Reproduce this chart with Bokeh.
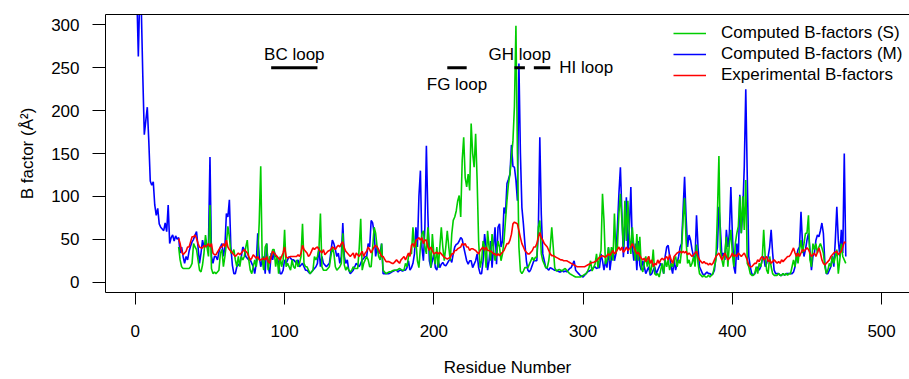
from bokeh.plotting import figure
from bokeh.models import Range1d, FixedTicker, Legend, LegendItem, ColumnDataSource, LinearAxis
from bokeh.embed import file_html
from bokeh.resources import INLINE

# ---------------- data ----------------
first_res_m = 1     # Computed B-factors (M) start residue
first_res_s = 29    # Computed B-factors (S) and experimental start residue

bfac_m = [
    335, 263, 340, 318, 240, 172, 188, 204, 165, 118,
    113, 117, 90, 78, 86, 68, 64, 62, 60, 69,
    59, 90, 45, 52, 55, 48, 54, 50, 52, 34,
    41, 30, 22, 30, 26, 36, 42, 47, 50, 55,
    59, 41, 22, 34, 49, 41, 45, 41, 44, 146,
    30, 22, 30, 30, 26, 35, 41, 45, 30, 41,
    80, 76, 96, 41, 20, 10, 10, 18, 20, 22,
    30, 41, 38, 30, 28, 26, 26, 22, 18, 10,
    22, 57, 30, 18, 26, 30, 10, 45, 18, 10,
    34, 26, 36, 30, 30, 22, 10, 10, 14, 26,
    22, 26, 30, 28, 26, 26, 24, 22, 26, 18,
    20, 22, 18, 14, 14, 12, 10, 12, 14, 16,
    18, 22, 41, 18, 30, 22, 20, 18, 20, 22,
    35, 49, 45, 38, 30, 34, 22, 30, 69, 30,
    22, 26, 14, 10, 12, 14, 18, 22, 20, 18,
    22, 26, 28, 30, 30, 45, 41, 72, 69, 57,
    30, 41, 34, 34, 45, 10, 10, 10, 10, 10,
    11, 12, 13, 14, 14, 12, 14, 14, 13, 14,
    14, 17, 25, 14, 17, 22, 33, 64, 41, 100,
    130, 41, 25, 64, 159, 79, 25, 17, 25, 33,
    17, 14, 25, 17, 21, 23, 20, 19, 22, 25,
    27, 23, 33, 41, 44, 45, 48, 52, 50, 41,
    33, 25, 21, 25, 25, 17, 21, 25, 33, 17,
    10, 10, 25, 56, 41, 14, 25, 48, 17, 41,
    64, 21, 64, 68, 41, 48, 87, 80, 115, 120,
    126, 160, 135, 134, 119, 95, 255, 150, 87, 68,
    45, 25, 14, 12, 15, 20, 25, 25, 25, 60,
    169, 79, 33, 25, 17, 16, 14, 17, 16, 15,
    14, 14, 13, 12, 12, 14, 12, 13, 12, 14,
    16, 17, 21, 25, 14, 12, 10, 8, 7, 6,
    8, 10, 12, 13, 14, 15, 17, 18, 16, 17,
    17, 33, 25, 14, 25, 17, 40, 14, 29, 40,
    25, 33, 64, 103, 134, 80, 29, 64, 99, 33,
    64, 111, 41, 25, 45, 14, 48, 20, 14, 25,
    18, 10, 14, 18, 8, 10, 14, 18, 10, 14,
    18, 22, 18, 10, 30, 41, 43, 30, 18, 10,
    26, 14, 22, 30, 41, 45, 84, 123, 76, 41,
    55, 49, 38, 30, 26, 78, 41, 18, 14, 10,
    8, 10, 12, 10, 10, 8, 10, 14, 30, 41,
    88, 62, 30, 34, 26, 61, 41, 57, 111, 57,
    18, 10, 45, 26, 102, 57, 84, 135, 225, 123,
    30, 18, 10, 8, 10, 14, 18, 14, 18, 26,
    30, 18, 22, 30, 41, 61, 34, 14, 10, 10,
    10, 8, 8, 10, 8, 10, 10, 10, 10, 10,
    12, 18, 30, 38, 41, 82, 45, 30, 38, 49,
    57, 38, 14, 30, 34, 49, 55, 53, 60, 69,
    57, 22, 10, 10, 14, 18, 30, 18, 49, 88,
    49, 30, 61, 34, 150, 30,
]

bfac_s = [
    41, 26,
    18, 16, 16, 16, 16, 16, 18, 22, 45, 41,
    38, 26, 14, 12, 20, 34, 55, 41, 30, 90,
    16, 10, 12, 10, 12, 14, 34, 38, 18, 30,
    45, 65, 53, 34, 34, 38, 26, 18, 30, 18,
    30, 26, 30, 41, 49, 26, 14, 10, 18, 26,
    18, 30, 70, 135, 26, 14, 41, 45, 14, 30,
    30, 38, 38, 18, 30, 10, 30, 18, 26, 61,
    18, 22, 18, 14, 26, 18, 16, 26, 18, 22,
    30, 68, 22, 18, 18, 14, 10, 12, 14, 30,
    26, 30, 38, 80, 18, 14, 14, 14, 16, 18,
    30, 41, 34, 18, 14, 16, 18, 22, 57, 20,
    14, 18, 14, 12, 14, 18, 16, 16, 16, 40,
    74, 14, 22, 26, 30, 26, 18, 18, 40, 64,
    57, 41, 30, 26, 45, 14, 12, 10, 11, 12,
    12, 13, 14, 14, 14, 15, 16, 15, 14, 14,
    22, 18, 30, 34, 33, 64, 40, 48, 25, 17,
    41, 56, 60, 41, 33, 64, 41, 17, 56, 33,
    21, 41, 17, 41, 64, 41, 25, 41, 60, 41,
    25, 56, 72, 76, 83, 95, 101, 76, 142, 169,
    122, 111, 126, 107, 185, 150, 134, 173, 119, 48,
    17, 25, 48, 41, 17, 60, 41, 25, 56, 37,
    25, 33, 48, 41, 25, 33, 48, 72, 95, 115,
    126, 146, 165, 205, 299, 150, 41, 13, 10, 13,
    17, 17, 17, 21, 25, 29, 25, 29, 29, 64,
    72, 33, 25, 21, 17, 17, 25, 41, 64, 41,
    17, 13, 14, 15, 14, 13, 15, 16, 14, 12,
    10, 9, 8, 7, 6, 6, 6, 6, 7, 8,
    9, 10, 13, 17, 25, 13, 17, 21, 33, 17,
    29, 37, 103, 72, 21, 25, 41, 25, 41, 25,
    80, 33, 41, 80, 103, 72, 41, 95, 48, 95,
    56, 33, 64, 41, 25, 56, 25, 53, 18, 12,
    22, 30, 18, 30, 10, 18, 38, 10, 8, 10,
    6, 14, 22, 10, 26, 18, 26, 14, 22, 18,
    26, 30, 18, 26, 22, 38, 73, 98, 49, 22,
    26, 18, 22, 30, 18, 44, 22, 10, 8, 6,
    8, 6, 6, 8, 6, 8, 10, 18, 26, 80,
    147, 38, 26, 18, 34, 53, 18, 45, 61, 34,
    18, 45, 57, 65, 100, 57, 100, 61, 119, 22,
    18, 10, 8, 8, 10, 18, 10, 22, 18, 26,
    61, 30, 14, 10, 30, 18, 10, 8, 8, 8,
    10, 8, 8, 10, 8, 10, 8, 10, 10, 18,
    26, 18, 34, 22, 38, 49, 34, 45, 57, 57,
    78, 26, 18, 45, 38, 45, 34, 41, 45, 40,
    34, 18, 10, 14, 22, 18, 30, 22, 30, 38,
    10, 26, 45, 30, 26, 22,
]

bfac_exp = [
    51, 45,
    36, 32, 34, 36, 41, 41, 47, 53, 53, 55,
    51, 45, 41, 40, 40, 43, 41, 43, 45, 41,
    45, 34, 32, 32, 35, 38, 41, 41, 45, 41,
    49, 41, 38, 36, 34, 32, 30, 32, 34, 32,
    34, 36, 38, 36, 34, 30, 26, 28, 32, 30,
    28, 30, 26, 26, 27, 28, 26, 30, 24, 22,
    30, 36, 34, 32, 30, 28, 26, 30, 34, 41,
    30, 28, 29, 30, 30, 30, 30, 30, 32, 30,
    34, 43, 38, 36, 34, 30, 32, 36, 40, 38,
    40, 41, 38, 36, 34, 38, 32, 34, 36, 37,
    38, 41, 40, 38, 41, 43, 41, 45, 47, 40,
    36, 34, 32, 30, 32, 34, 28, 34, 32, 30,
    33, 36, 30, 34, 36, 41, 38, 34, 38, 41,
    43, 41, 38, 34, 30, 30, 27, 24, 24, 24,
    23, 22, 22, 24, 26, 24, 22, 26, 28, 30,
    26, 30, 34, 30, 43, 45, 41, 49, 50, 52,
    49, 52, 45, 49, 49, 41, 37, 41, 37, 33,
    34, 35, 33, 35, 33, 31, 29, 28, 27, 28,
    29, 33, 33, 37, 37, 39, 40, 41, 45, 43,
    45, 41, 41, 37, 39, 39, 38, 37, 35, 33,
    37, 39, 41, 37, 41, 37, 37, 36, 35, 33,
    33, 31, 33, 31, 33, 35, 37, 41, 45, 45,
    49, 56, 68, 70, 69, 68, 60, 52, 45, 41,
    37, 35, 33, 33, 35, 37, 41, 41, 45, 52,
    58, 52, 49, 45, 43, 41, 37, 33, 31, 31,
    30, 29, 28, 27, 26, 26, 25, 25, 25, 24,
    23, 22, 21, 20, 19, 18, 18, 18, 18, 18,
    18, 19, 20, 21, 22, 23, 23, 24, 25, 27,
    29, 30, 31, 30, 29, 31, 33, 31, 34, 37,
    33, 35, 38, 41, 37, 41, 35, 37, 41, 37,
    39, 41, 45, 41, 37, 33, 35, 31, 28, 26,
    28, 24, 27, 30, 22, 26, 18, 22, 20, 26,
    22, 26, 28, 26, 28, 30, 26, 32, 26, 22,
    30, 32, 34, 35, 36, 34, 36, 34, 36, 32,
    34, 32, 30, 32, 34, 36, 30, 26, 24, 22,
    24, 22, 22, 20, 22, 20, 22, 26, 30, 32,
    34, 30, 26, 30, 34, 30, 26, 28, 30, 34,
    30, 32, 30, 34, 32, 30, 32, 34, 30, 26,
    20, 18, 18, 20, 22, 22, 26, 24, 28, 30,
    26, 28, 30, 24, 26, 22, 24, 26, 24, 22,
    24, 22, 26, 24, 26, 28, 30, 30, 32, 36,
    40, 34, 30, 34, 30, 34, 38, 36, 38, 40,
    38, 34, 30, 32, 34, 30, 35, 40, 34, 26,
    22, 20, 22, 24, 26, 30, 32, 34, 35, 36,
    32, 34, 36, 41, 47, 46,
]

series_labels = ["Computed B-factors (S)", "Computed B-factors (M)", "Experimental B-factors"]

loop_names = ["BC loop", "FG loop", "GH loop", "HI loop"]
loop_start = [91, 209, 254, 267]
loop_end = [122, 222, 261, 278]
loop_level = [250, 250, 250, 250]

x_ticks = [0, 100, 200, 300, 400, 500]
y_ticks = [0, 50, 100, 150, 200, 250, 300]

# ---------------- figure ----------------
FONT = "Liberation Sans"
FS = "17px"

res_m = list(range(first_res_m, first_res_m + len(bfac_m)))
res_s = list(range(first_res_s, first_res_s + len(bfac_s)))
res_e = list(range(first_res_s, first_res_s + len(bfac_exp)))

p = figure(width=909, height=379,
           x_range=Range1d(-20, 518.7), y_range=Range1d(-12, 312),
           output_backend="svg", toolbar_location=None,
           min_border_left=105, min_border_right=0, min_border_top=14, min_border_bottom=86)
p.outline_line_color = None
p.xgrid.visible = False
p.ygrid.visible = False
p.background_fill_color = "white"
p.border_fill_color = "white"

r_m = p.line(res_m, bfac_m, line_color="#0000FF", line_width=1.6)
r_s = p.line(res_s, bfac_s, line_color="#00CD00", line_width=1.6)
r_e = p.line(res_e, bfac_exp, line_color="#FF0000", line_width=1.6)

bottom_axis = p.below[0]
left_axis = p.left[0]

# top edge of the box (its right edge lies just outside the picture in the original)
top_axis = LinearAxis(ticker=FixedTicker(ticks=[]), axis_line_color="black",
                      major_tick_line_color=None, minor_tick_line_color=None,
                      major_tick_out=0, major_tick_in=0, major_label_standoff=0)
p.add_layout(top_axis, "above")

# axes
bottom_axis.ticker = FixedTicker(ticks=x_ticks)
left_axis.ticker = FixedTicker(ticks=y_ticks)
for ax in (bottom_axis, left_axis):
    ax.major_tick_in = 0
    ax.minor_tick_line_color = None
    ax.axis_line_color = "black"
    ax.major_tick_line_color = "black"
    ax.major_label_text_font = FONT
    ax.major_label_text_font_size = FS
    ax.major_label_text_color = "black"
    ax.axis_label_text_font = FONT
    ax.axis_label_text_font_size = FS
    ax.axis_label_text_font_style = "normal"
    ax.axis_label_text_color = "black"
bottom_axis.major_tick_out = 12
left_axis.major_tick_out = 13
bottom_axis.major_label_standoff = 20
left_axis.major_label_standoff = 13
bottom_axis.axis_label = "Residue Number"
left_axis.axis_label = "B factor (Å²)"
bottom_axis.axis_label_standoff = 18
left_axis.axis_label_standoff = 11

# loop markers
mid = [(a + b) / 2 for a, b in zip(loop_start, loop_end)]
p.segment(x0=loop_start, y0=loop_level, x1=loop_end, y1=loop_level,
          line_color="black", line_width=3)

label_anchor_end = [False, False, False, True]
label_dx = [0, 0, 0, 9]
label_dy = [-13, 17, -13, 0]
label_align = ["center", "center", "center", "left"]
lab_src = ColumnDataSource(dict(
    x=[e if use_end else m for m, e, use_end in zip(mid, loop_end, label_anchor_end)],
    y=loop_level, text=loop_names, dx=label_dx, dy=label_dy, align=label_align))
p.text(x="x", y="y", text="text", x_offset="dx", y_offset="dy", text_align="align",
       text_baseline="middle", text_font={"value": FONT}, text_font_size={"value": FS},
       text_color="black", source=lab_src)

legend = Legend(items=[LegendItem(label=series_labels[0], renderers=[r_s]),
                       LegendItem(label=series_labels[1], renderers=[r_m]),
                       LegendItem(label=series_labels[2], renderers=[r_e])],
                location=(568, 207), glyph_width=33, glyph_height=20, label_height=20,
                label_standoff=15, spacing=1, padding=0, margin=0,
                border_line_color=None, background_fill_alpha=0,
                label_text_font=FONT, label_text_font_size=FS, label_text_color="black")
p.add_layout(legend)

open("out.html", "w").write(file_html(p, INLINE))
